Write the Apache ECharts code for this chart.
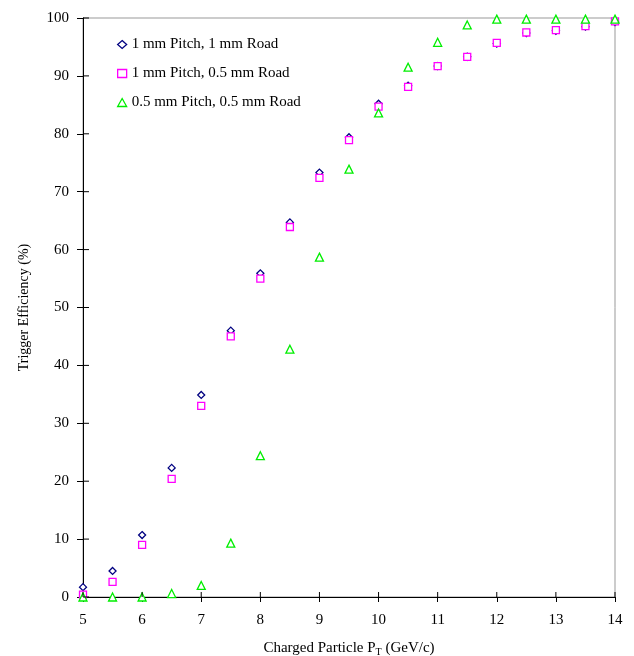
<!DOCTYPE html>
<html><head><meta charset="utf-8">
<script src="https://cdn.jsdelivr.net/npm/echarts@6/dist/echarts.min.js"></script>
<style>html,body{margin:0;padding:0;background:#fff}#c{width:634px;height:656px}</style>
</head><body><div id="c"></div>
<script>
const pt = [5,5.5,6,6.5,7,7.5,8,8.5,9,9.5,10,10.5,11,11.5,12,12.5,13,13.5,14];
const s1 = [1.7,4.5,10.7,22.3,34.9,46.0,55.9,64.7,73.3,79.4,85.2,88.3,91.7,93.3,95.6,97.4,97.8,98.5,99.3];
const s2 = [0.4,2.6,9.0,20.4,33.0,45.0,55.0,63.9,72.4,78.9,84.7,88.1,91.7,93.3,95.7,97.5,97.9,98.6,99.4];
const s3 = [0,0,0,0.6,2.0,9.3,24.4,42.8,58.7,73.9,83.6,91.5,95.8,98.8,99.8,99.8,99.8,99.8,99.8];
const names = ['1 mm Pitch, 1 mm Road','1 mm Pitch, 0.5 mm Road','0.5 mm Pitch, 0.5 mm Road'];
const xTicks = [5,6,7,8,9,10,11,12,13,14];
const yTicks = [0,10,20,30,40,50,60,70,80,90,100];

const font = 'Liberation Serif, Times New Roman, serif';
const chart = echarts.init(document.getElementById('c'));
const pairs = (ys) => pt.map((x,i)=>[x,ys[i]]);
const colors = ['#000080','#ff00ff','#00ee00'];
const symbols = ['diamond','rect','triangle'];
const sizes = [7,7,8];
const data = [s1,s2,s3];

function tickSeries(vals, isX){
  return {type:'custom', silent:true, clip:false, z:10,
    data: vals.map(v => isX ? [v,0] : [5,v]),
    renderItem: (params, api) => {
      const p = api.coord([api.value(0), api.value(1)]);
      const shape = isX ? {x1:p[0], y1:p[1], x2:p[0], y2:p[1]-5}
                        : {x1:p[0], y1:p[1], x2:p[0]+6, y2:p[1]};
      return {type:'line', shape, style:{stroke:'#000', lineWidth:1}};
    }};
}

chart.setOption({
  animation:false,
  backgroundColor:'#fff',
  grid:{left:83, right:19, top:18, bottom:59, show:true, borderColor:'#999', borderWidth:1, outerBoundsMode:'none', containLabel:false},
  legend:{orient:'vertical', left:112, top:32, itemGap:14, itemWidth:9, itemHeight:8,
    textStyle:{fontFamily:font, fontSize:15, color:'#000'},
    data: names.map((n,i)=>({name:n, icon:symbols[i], itemStyle:{color:'#fff', borderColor:colors[i], borderWidth:1.3}}))
  },
  xAxis:{type:'value', min:5, max:14, interval:1,
    axisLine:{show:true, onZero:false, lineStyle:{color:'#000', width:1}},
    axisTick:{show:true, length:5, lineStyle:{color:'#000'}},
    axisLabel:{color:'#000', fontFamily:font, fontSize:15, margin:16},
    splitLine:{show:false},
    name:'Charged Particle P{s|T} (GeV/c)',
    nameLocation:'middle', nameGap:42,
    nameTextStyle:{color:'#000', fontFamily:font, fontSize:15,
      rich:{s:{fontSize:10, verticalAlign:'bottom', padding:[8,0,0,0], fontFamily:font, color:'#000'}}}
  },
  yAxis:{type:'value', min:0, max:100, interval:10,
    axisLine:{show:true, onZero:false, lineStyle:{color:'#000', width:1}},
    axisTick:{show:true, length:6, lineStyle:{color:'#000'}},
    axisLabel:{color:'#000', fontFamily:font, fontSize:15, margin:14},
    splitLine:{show:false},
    name:'Trigger Efficiency (%)',
    nameLocation:'middle', nameGap:52, nameRotate:90,
    nameTextStyle:{color:'#000', fontFamily:font, fontSize:14}
  },
  series: names.map((n,i)=>({
    name:n, type:'scatter',
    symbol:symbols[i], symbolSize:sizes[i],
    itemStyle:{color:'#fff', borderColor:colors[i], borderWidth:1.3, opacity:1},
    data:pairs(data[i]), z:2+i
  })).concat([tickSeries(xTicks,true), tickSeries(yTicks,false)])
});
</script></body></html>
